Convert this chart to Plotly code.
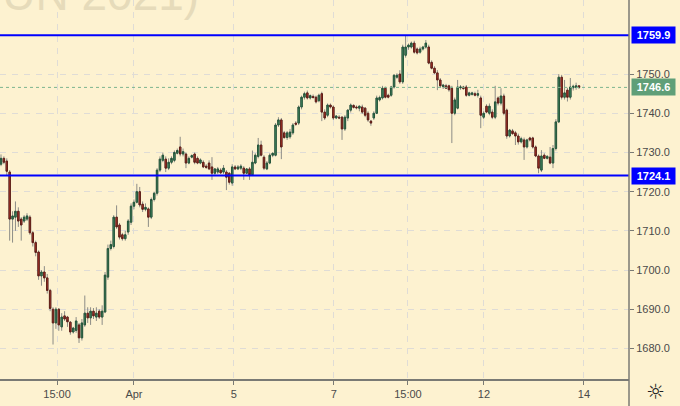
import plotly.graph_objects as go

# ---------------- data ----------------
opens = [
    1727.0, 1728.5, 1727.8, 1725.0, 1713.0, 1713.5, 1715.0, 1713.0, 1712.5, 1713.0,
    1713.5, 1709.5, 1707.0, 1704.6, 1698.5, 1699.5, 1698.0, 1694.8, 1690.0, 1686.5,
    1690.0, 1685.5, 1688.3, 1688.0, 1686.7, 1684.2, 1684.6, 1686.0, 1682.7, 1686.0,
    1689.0, 1687.8, 1689.5, 1688.0, 1689.5, 1688.0, 1689.3, 1698.2, 1705.5, 1706.0,
    1713.5, 1711.5, 1709.0, 1708.0, 1709.7, 1712.2, 1716.3, 1717.3, 1720.0, 1716.8,
    1715.5, 1715.6, 1713.5, 1718.0, 1719.6, 1725.5, 1728.0, 1728.3, 1726.0, 1727.5,
    1728.0, 1729.8, 1731.4, 1729.6, 1729.6, 1727.3, 1728.8, 1729.6, 1728.5, 1727.3,
    1727.5, 1726.5, 1727.3, 1726.3, 1724.7, 1725.0, 1725.5, 1725.0, 1725.0, 1724.7,
    1722.2, 1726.3, 1725.8, 1726.0, 1726.0, 1724.7, 1725.8, 1724.3, 1727.3, 1729.0,
    1731.9, 1728.8, 1725.8, 1727.3, 1729.3, 1729.3, 1737.0, 1738.3, 1735.0, 1733.8,
    1734.0, 1735.0, 1737.5, 1737.5, 1741.6, 1744.1, 1745.2, 1743.9, 1744.3, 1744.1,
    1743.2, 1745.0, 1740.3, 1739.5, 1742.1, 1741.6, 1738.8, 1739.0, 1739.0, 1736.0,
    1738.8, 1740.8, 1742.0, 1741.6, 1741.3, 1741.6, 1741.3, 1740.0, 1738.0, 1738.8,
    1740.0, 1743.4, 1743.9, 1746.4, 1744.6, 1744.6, 1746.7, 1749.2, 1750.0, 1748.0,
    1754.8, 1756.9, 1756.9, 1757.9, 1756.4, 1755.6, 1756.4, 1756.9, 1756.9, 1753.0,
    1751.5, 1750.3, 1748.5, 1746.8, 1747.0, 1747.0, 1746.4, 1740.0, 1741.3, 1746.5,
    1746.7, 1746.7, 1744.6, 1744.8, 1745.0, 1744.6, 1743.9, 1739.0, 1741.8, 1740.0,
    1740.3, 1739.0, 1743.9, 1742.6, 1744.4, 1740.8, 1734.2, 1735.5, 1735.0, 1734.2,
    1732.7, 1733.2, 1731.4, 1733.7, 1733.7, 1731.4, 1729.1, 1725.5, 1729.3, 1728.5,
    1728.8, 1727.3, 1731.0, 1737.8, 1749.2, 1744.1, 1745.9, 1744.1, 1746.5, 1746.6,
    1747.0,
]
highs = [
    1729.5, 1729.0, 1728.5, 1725.5, 1715.0, 1717.5, 1716.0, 1713.5, 1714.0, 1714.5,
    1714.0, 1710.0, 1707.5, 1705.0, 1700.0, 1701.0, 1699.0, 1695.2, 1690.5, 1690.5,
    1690.3, 1689.0, 1689.5, 1688.3, 1687.0, 1685.5, 1688.0, 1686.5, 1687.5, 1693.5,
    1690.5, 1690.5, 1690.3, 1690.5, 1690.0, 1691.0, 1699.5, 1706.5, 1707.5, 1714.0,
    1716.5, 1712.0, 1709.5, 1710.0, 1713.0, 1717.0, 1718.0, 1722.0, 1721.2, 1717.5,
    1717.0, 1716.0, 1718.5, 1720.0, 1726.0, 1729.0, 1730.0, 1729.0, 1728.5, 1729.0,
    1730.5, 1731.0, 1734.0, 1731.0, 1730.0, 1729.0, 1729.5, 1730.0, 1729.0, 1728.5,
    1728.0, 1727.0, 1728.0, 1728.8, 1726.0, 1726.3, 1726.0, 1726.8, 1725.5, 1725.0,
    1727.0, 1726.8, 1726.8, 1727.0, 1726.5, 1726.0, 1726.3, 1730.5, 1729.8, 1733.7,
    1733.0, 1729.3, 1727.8, 1729.8, 1730.0, 1737.5, 1739.0, 1738.8, 1735.5, 1735.5,
    1736.0, 1737.5, 1738.0, 1742.0, 1744.5, 1745.5, 1745.8, 1744.8, 1744.8, 1744.5,
    1745.0, 1745.5, 1741.0, 1742.5, 1742.5, 1742.0, 1739.5, 1739.5, 1739.3, 1739.5,
    1741.0, 1742.5, 1742.3, 1742.0, 1742.0, 1742.2, 1741.6, 1740.5, 1738.3, 1740.5,
    1744.5, 1744.5, 1747.0, 1746.8, 1745.0, 1747.0, 1750.0, 1750.2, 1751.0, 1757.5,
    1759.9, 1757.8, 1758.3, 1758.5, 1756.8, 1757.0, 1757.2, 1758.7, 1757.5, 1753.5,
    1752.0, 1751.0, 1749.0, 1747.5, 1747.5, 1747.3, 1747.0, 1744.0, 1748.5, 1747.2,
    1747.0, 1747.2, 1745.5, 1745.5, 1745.5, 1746.0, 1744.5, 1740.5, 1742.3, 1742.5,
    1741.0, 1747.0, 1744.3, 1746.4, 1745.0, 1741.2, 1736.0, 1736.0, 1735.5, 1734.8,
    1734.0, 1733.8, 1733.5, 1734.0, 1734.0, 1731.8, 1729.5, 1730.6, 1729.8, 1729.3,
    1731.4, 1731.9, 1738.5, 1750.0, 1749.8, 1748.5, 1746.5, 1749.0, 1747.3, 1747.8,
    1747.2,
]
lows = [
    1726.5, 1727.0, 1724.0, 1707.5, 1707.0, 1710.0, 1711.0, 1707.5, 1712.0, 1712.5,
    1709.0, 1706.0, 1703.5, 1697.5, 1696.0, 1697.0, 1694.0, 1689.5, 1681.0, 1685.0,
    1684.5, 1684.5, 1687.0, 1685.5, 1683.5, 1683.8, 1684.0, 1681.4, 1682.0, 1685.5,
    1686.5, 1686.0, 1687.5, 1687.0, 1687.5, 1686.0, 1689.0, 1697.5, 1705.0, 1705.5,
    1710.5, 1707.8, 1707.5, 1707.5, 1709.0, 1711.5, 1715.5, 1717.0, 1716.0, 1714.8,
    1715.0, 1711.0, 1713.0, 1717.5, 1719.0, 1725.0, 1727.5, 1725.0, 1725.5, 1727.0,
    1727.5, 1729.5, 1729.0, 1729.0, 1726.0, 1727.0, 1728.5, 1727.0, 1727.0, 1727.0,
    1726.0, 1725.8, 1725.5, 1723.0, 1724.3, 1724.5, 1724.5, 1724.5, 1720.4, 1721.8,
    1721.5, 1725.5, 1725.5, 1725.5, 1723.0, 1724.5, 1723.0, 1724.0, 1727.0, 1728.5,
    1729.0, 1725.5, 1725.5, 1727.0, 1728.8, 1729.0, 1736.5, 1728.3, 1733.5, 1733.2,
    1733.5, 1734.5, 1736.8, 1737.0, 1741.0, 1743.5, 1743.5, 1743.5, 1743.8, 1742.5,
    1742.8, 1738.0, 1738.3, 1739.0, 1741.2, 1738.3, 1738.5, 1738.5, 1733.2, 1735.5,
    1738.0, 1740.2, 1741.2, 1741.0, 1740.5, 1739.8, 1739.0, 1737.8, 1736.8, 1738.3,
    1739.8, 1743.0, 1743.5, 1743.8, 1743.8, 1744.2, 1746.3, 1748.8, 1747.5, 1747.5,
    1754.2, 1756.2, 1756.5, 1755.2, 1755.0, 1755.2, 1756.0, 1756.5, 1752.5, 1751.2,
    1750.0, 1745.9, 1746.5, 1746.2, 1746.2, 1745.5, 1732.4, 1739.5, 1741.0, 1746.0,
    1746.0, 1744.2, 1744.3, 1744.5, 1744.3, 1744.0, 1736.2, 1738.5, 1740.0, 1739.5,
    1738.5, 1738.5, 1742.0, 1742.0, 1739.5, 1733.5, 1733.8, 1734.5, 1731.9, 1732.0,
    1732.3, 1728.1, 1731.0, 1732.8, 1731.0, 1728.8, 1724.7, 1725.0, 1728.3, 1728.2,
    1727.0, 1726.0, 1730.5, 1737.5, 1743.5, 1743.5, 1743.0, 1743.5, 1745.8, 1746.0,
    1746.2,
]
closes = [
    1728.5, 1727.5, 1725.2, 1713.0, 1713.8, 1715.0, 1712.5, 1711.5, 1713.5, 1713.8,
    1709.5, 1707.0, 1704.5, 1698.5, 1699.5, 1698.0, 1694.8, 1690.2, 1686.5, 1690.0,
    1686.0, 1688.0, 1687.5, 1686.8, 1684.2, 1685.2, 1687.0, 1682.7, 1686.5, 1689.0,
    1687.8, 1689.5, 1688.3, 1689.0, 1688.0, 1689.5, 1698.7, 1705.5, 1706.5, 1713.5,
    1711.0, 1708.4, 1708.0, 1709.0, 1712.5, 1716.3, 1717.3, 1720.0, 1716.6, 1715.5,
    1716.0, 1713.5, 1718.0, 1719.6, 1725.5, 1728.3, 1729.3, 1726.0, 1727.5, 1728.5,
    1730.0, 1730.5, 1729.6, 1730.2, 1727.3, 1728.5, 1729.2, 1727.5, 1727.3, 1728.1,
    1726.3, 1726.2, 1725.8, 1724.7, 1725.8, 1725.8, 1724.8, 1726.0, 1723.7, 1722.4,
    1726.3, 1725.8, 1726.3, 1726.5, 1724.7, 1725.8, 1724.3, 1727.5, 1729.3, 1731.9,
    1729.3, 1726.0, 1727.3, 1729.3, 1729.8, 1737.0, 1738.3, 1731.4, 1733.8, 1735.0,
    1735.2, 1737.0, 1737.2, 1741.6, 1744.1, 1745.0, 1743.9, 1744.5, 1744.0, 1742.9,
    1744.6, 1740.3, 1738.8, 1742.1, 1741.6, 1738.8, 1739.3, 1738.8, 1736.0, 1739.0,
    1740.8, 1742.1, 1741.5, 1741.4, 1741.8, 1740.3, 1739.5, 1738.3, 1737.5, 1740.0,
    1743.9, 1744.0, 1746.4, 1744.1, 1744.1, 1746.7, 1749.7, 1749.7, 1748.0, 1756.9,
    1756.9, 1757.4, 1757.9, 1755.6, 1755.4, 1756.4, 1756.9, 1757.9, 1752.8, 1751.5,
    1750.3, 1748.5, 1747.0, 1747.2, 1746.4, 1746.0, 1740.0, 1743.4, 1746.7, 1746.7,
    1746.3, 1744.6, 1745.2, 1745.2, 1744.6, 1745.0, 1739.5, 1740.0, 1740.3, 1741.8,
    1739.0, 1742.9, 1742.6, 1744.4, 1740.0, 1734.2, 1735.7, 1734.8, 1734.2, 1732.7,
    1733.5, 1731.4, 1733.2, 1733.2, 1731.4, 1729.1, 1726.0, 1729.1, 1728.5, 1729.0,
    1727.3, 1731.0, 1737.8, 1749.2, 1744.1, 1745.2, 1744.1, 1746.7, 1746.9, 1747.0,
    1746.6,
]

tick_labels = ["15:00", "Apr", "5", "7", "15:00", "12", "14"]
tick_bars = [19.4, 46.0, 80.6, 115.2, 140.8, 167.1, 201.7]   # bar index of each label
price_ticks = [1680, 1690, 1700, 1710, 1720, 1730, 1740, 1750]
level_lines = [1759.9, 1724.1]
last_price = 1746.6
watermark = "(JUN 2021)"

# ---------------- figure ----------------
N = len(closes)
idx = list(range(N))
body_hi = [max(o, c) for o, c in zip(opens, closes)]
body_lo = [min(o, c) for o, c in zip(opens, closes)]

BG = "#fdf2d0"
GRID = "#dfdcd6"
AXIS = "#7a7a74"
TXT = "#4a4a4a"
FONT = "Liberation Sans"

fig = go.Figure()
# wicks (grey)
fig.add_trace(go.Candlestick(
    x=idx, open=opens, high=highs, low=lows, close=closes,
    increasing=dict(line=dict(color="#8c8c86", width=1), fillcolor="#8c8c86"),
    decreasing=dict(line=dict(color="#8c8c86", width=1), fillcolor="#8c8c86"),
    whiskerwidth=0, hoverinfo="skip", showlegend=False))
# bodies
fig.add_trace(go.Candlestick(
    x=idx, open=opens, high=body_hi, low=body_lo, close=closes,
    increasing=dict(line=dict(color="#24553a", width=1), fillcolor="#4a9468"),
    decreasing=dict(line=dict(color="#5e1e17", width=1), fillcolor="#c0392b"),
    whiskerwidth=0, hoverinfo="skip", showlegend=False))

W, H = 680, 406
PL, PR, PT, PB = 0, 629, 0, 379
ppb = 578 / (N - 1)
x_range = [-1 / ppb, 628 / ppb]
y_range = [1672.2, 1768.9]

for lv in level_lines:
    fig.add_hline(y=lv, line=dict(color="#0000ff", width=2))
fig.add_hline(y=last_price, line=dict(color="#7db58e", width=1, dash="dot"))

# right axis line extending to bottom of image
fig.add_shape(type="line", xref="paper", yref="paper", x0=1, x1=1,
              y0=-(H - PB) / PB, y1=1, line=dict(color=AXIS, width=1.5))

# price labels on axis
for lv in level_lines:
    fig.add_annotation(x=1, xref="paper", y=lv, yref="y", xanchor="left", yanchor="middle",
                       xshift=2, text=f"<b>{lv:.1f}</b>", showarrow=False,
                       bgcolor="#0000ff", font=dict(color="white", size=11, family=FONT),
                       width=38, height=11, borderpad=2.5)
fig.add_annotation(x=1, xref="paper", y=last_price, yref="y", xanchor="left", yanchor="middle",
                   xshift=2, text=f"<b>{last_price:.1f}</b>", showarrow=False,
                   bgcolor="#5f9f78", font=dict(color="white", size=11, family=FONT),
                   width=38, height=11, borderpad=2.5)

# watermark
fig.add_annotation(x=201 / PR, xref="paper", y=1 + 6 / PB, yref="paper",
                   xanchor="right", yanchor="middle", text=watermark, showarrow=False,
                   font=dict(color="#e6dbba", size=46, family=FONT))

# settings icon
fig.add_annotation(x=655 / PR, xref="paper", y=-13 / PB, yref="paper",
                   xanchor="center", yanchor="middle", text="\u263c", showarrow=False,
                   font=dict(color="#222222", size=21, family="DejaVu Sans"))

fig.update_layout(
    width=W, height=H,
    margin=dict(l=PL, r=W - PR, t=PT, b=H - PB, pad=0),
    paper_bgcolor=BG, plot_bgcolor=BG,
    showlegend=False, hovermode=False,
    font=dict(family=FONT, size=11, color=TXT),
    xaxis=dict(range=x_range, tickmode="array", tickvals=tick_bars, ticktext=tick_labels,
               showgrid=True, gridcolor=GRID, griddash="6px,6px", gridwidth=1,
               ticks="outside", ticklen=4, tickcolor=AXIS, tickwidth=1,
               showline=True, linecolor=AXIS, linewidth=1.5, zeroline=False,
               rangeslider=dict(visible=False), fixedrange=True,
               tickfont=dict(size=11, color=TXT, family=FONT)),
    yaxis=dict(range=y_range, side="right", tickmode="array", tickvals=price_ticks,
               ticktext=[f"{p:.1f}" for p in price_ticks],
               showgrid=True, gridcolor=GRID, griddash="6px,6px", gridwidth=1,
               ticks="outside", ticklen=4, tickcolor=AXIS, tickwidth=1,
               showline=False, zeroline=False, fixedrange=True,
               tickfont=dict(size=11, color=TXT, family=FONT)),
)

fig.write_html("out.html", config={"displayModeBar": False},
               post_script="document.body.style.margin='0';"
                           "document.body.style.background='" + BG + "';")
